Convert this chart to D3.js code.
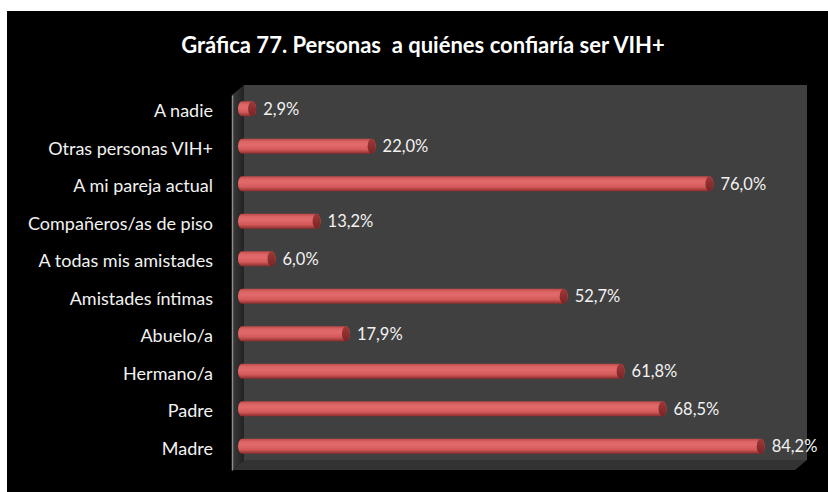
<!DOCTYPE html>
<html>
<head>
<meta charset="utf-8">
<script src="https://cdn.jsdelivr.net/npm/d3@7/dist/d3.min.js"></script>
<style>
  html, body { margin: 0; padding: 0; background: #ffffff; }
  svg { display: block; }
  text { font-family: Lato, "Open Sans", sans-serif; }
</style>
</head>
<body>
<svg id="chart" width="828" height="492"></svg>
<script>
// Categories, top to bottom
const categories = [
  "A nadie",
  "Otras personas VIH+",
  "A mi pareja actual",
  "Compañeros/as de piso",
  "A todas mis amistades",
  "Amistades íntimas",
  "Abuelo/a",
  "Hermano/a",
  "Padre",
  "Madre"
];
// Percentage of respondents
const values = [2.9, 22.0, 76.0, 13.2, 6.0, 52.7, 17.9, 61.8, 68.5, 84.2];
const valueLabels = ["2,9%", "22,0%", "76,0%", "13,2%", "6,0%", "52,7%", "17,9%", "61,8%", "68,5%", "84,2%"];
const titleText = "Gráfica 77. Personas  a quiénes confiaría ser VIH+";

const svg = d3.select("#chart");

// Chart background
svg.append("rect").attr("x", 7).attr("y", 11).attr("width", 821).attr("height", 481).attr("fill", "#000");

svg.append("text")
  .attr("x", 423).attr("y", 53)
  .attr("text-anchor", "middle")
  .attr("fill", "#fff")
  .attr("font-size", 22)
  .attr("font-weight", "bold")
  .style("white-space", "pre")
  .text(titleText);

// 3D box geometry: front plane and depth offset
const front = { left: 232, right: 795, top: 95, bottom: 470 };
const depth = { dx: 12, dy: -10 };

const defs = svg.append("defs");
const sideGrad = defs.append("linearGradient").attr("id", "sideGrad").attr("x1", 0).attr("x2", 1).attr("y1", 0).attr("y2", 0);
sideGrad.append("stop").attr("offset", "0%").attr("stop-color", "#3a3a3a");
sideGrad.append("stop").attr("offset", "100%").attr("stop-color", "#232323");

const barGrad = defs.append("linearGradient").attr("id", "barGrad").attr("x1", 0).attr("x2", 0).attr("y1", 0).attr("y2", 1);
barGrad.append("stop").attr("offset", "0%").attr("stop-color", "#bb4848");
barGrad.append("stop").attr("offset", "18%").attr("stop-color", "#da6363");
barGrad.append("stop").attr("offset", "40%").attr("stop-color", "#e26a6a");
barGrad.append("stop").attr("offset", "72%").attr("stop-color", "#d45a5a");
barGrad.append("stop").attr("offset", "100%").attr("stop-color", "#8a2c2c");

const capGrad = defs.append("linearGradient").attr("id", "capGrad").attr("x1", 0).attr("x2", 0).attr("y1", 0).attr("y2", 1);
capGrad.append("stop").attr("offset", "0%").attr("stop-color", "#a03838");
capGrad.append("stop").attr("offset", "100%").attr("stop-color", "#7a2424");

// Back wall
svg.append("rect")
  .attr("x", front.left + depth.dx).attr("y", front.top + depth.dy)
  .attr("width", front.right - front.left).attr("height", front.bottom - front.top)
  .attr("fill", "#404040");

// Left side wall
svg.append("polygon")
  .attr("points", [
    [front.left, front.top],
    [front.left + depth.dx, front.top + depth.dy],
    [front.left + depth.dx, front.bottom + depth.dy],
    [front.left, front.bottom]
  ].map(p => p.join(",")).join(" "))
  .attr("fill", "url(#sideGrad)");

// Floor
svg.append("polygon")
  .attr("points", [
    [front.left, front.bottom],
    [front.left + depth.dx, front.bottom + depth.dy],
    [front.right + depth.dx, front.bottom + depth.dy],
    [front.right, front.bottom]
  ].map(p => p.join(",")).join(" "))
  .attr("fill", "#333333");

// Scales at mid depth
const midDx = depth.dx / 2, midDy = depth.dy / 2;
const x = d3.scaleLinear().domain([0, 90]).range([front.left + midDx, front.right + midDx]);
const y = d3.scaleBand().domain(categories).range([front.top + midDy, front.bottom + midDy]).paddingInner(0.6).paddingOuter(0.3);

// Category axis (front plane)
const yAxis = d3.scaleBand().domain(categories).range([front.top, front.bottom]).paddingInner(0.6).paddingOuter(0.3);
const axisG = svg.append("g").attr("transform", `translate(${front.left},0)`)
  .call(d3.axisLeft(yAxis).tickSize(0).tickPadding(19));
axisG.select(".domain").attr("stroke", "#8c8c8c").attr("stroke-width", 1.5);
axisG.selectAll(".tick text")
  .attr("fill", "#f2f2f2")
  .attr("font-size", 18)
  .attr("dy", "0.2em");

// Cylinder bars
const bh = y.bandwidth();
const rx = 4;
const bars = svg.append("g").selectAll("g").data(categories).join("g");
bars.append("rect")
  .attr("x", x(0)).attr("y", d => y(d))
  .attr("width", (d, i) => x(values[i]) - x(0)).attr("height", bh)
  .attr("rx", rx).attr("ry", bh / 2)
  .attr("fill", "url(#barGrad)");
bars.append("ellipse")
  .attr("cx", (d, i) => x(values[i]) - rx).attr("cy", d => y(d) + bh / 2)
  .attr("rx", rx).attr("ry", bh / 2)
  .attr("fill", "url(#capGrad)");

// Value labels
bars.append("text")
  .attr("x", (d, i) => x(values[i]) + 7)
  .attr("y", d => y(d) + bh / 2)
  .attr("dy", "0.36em")
  .attr("fill", "#f2f2f2")
  .attr("font-size", 16.5)
  .text((d, i) => valueLabels[i]);
</script>
</body>
</html>
